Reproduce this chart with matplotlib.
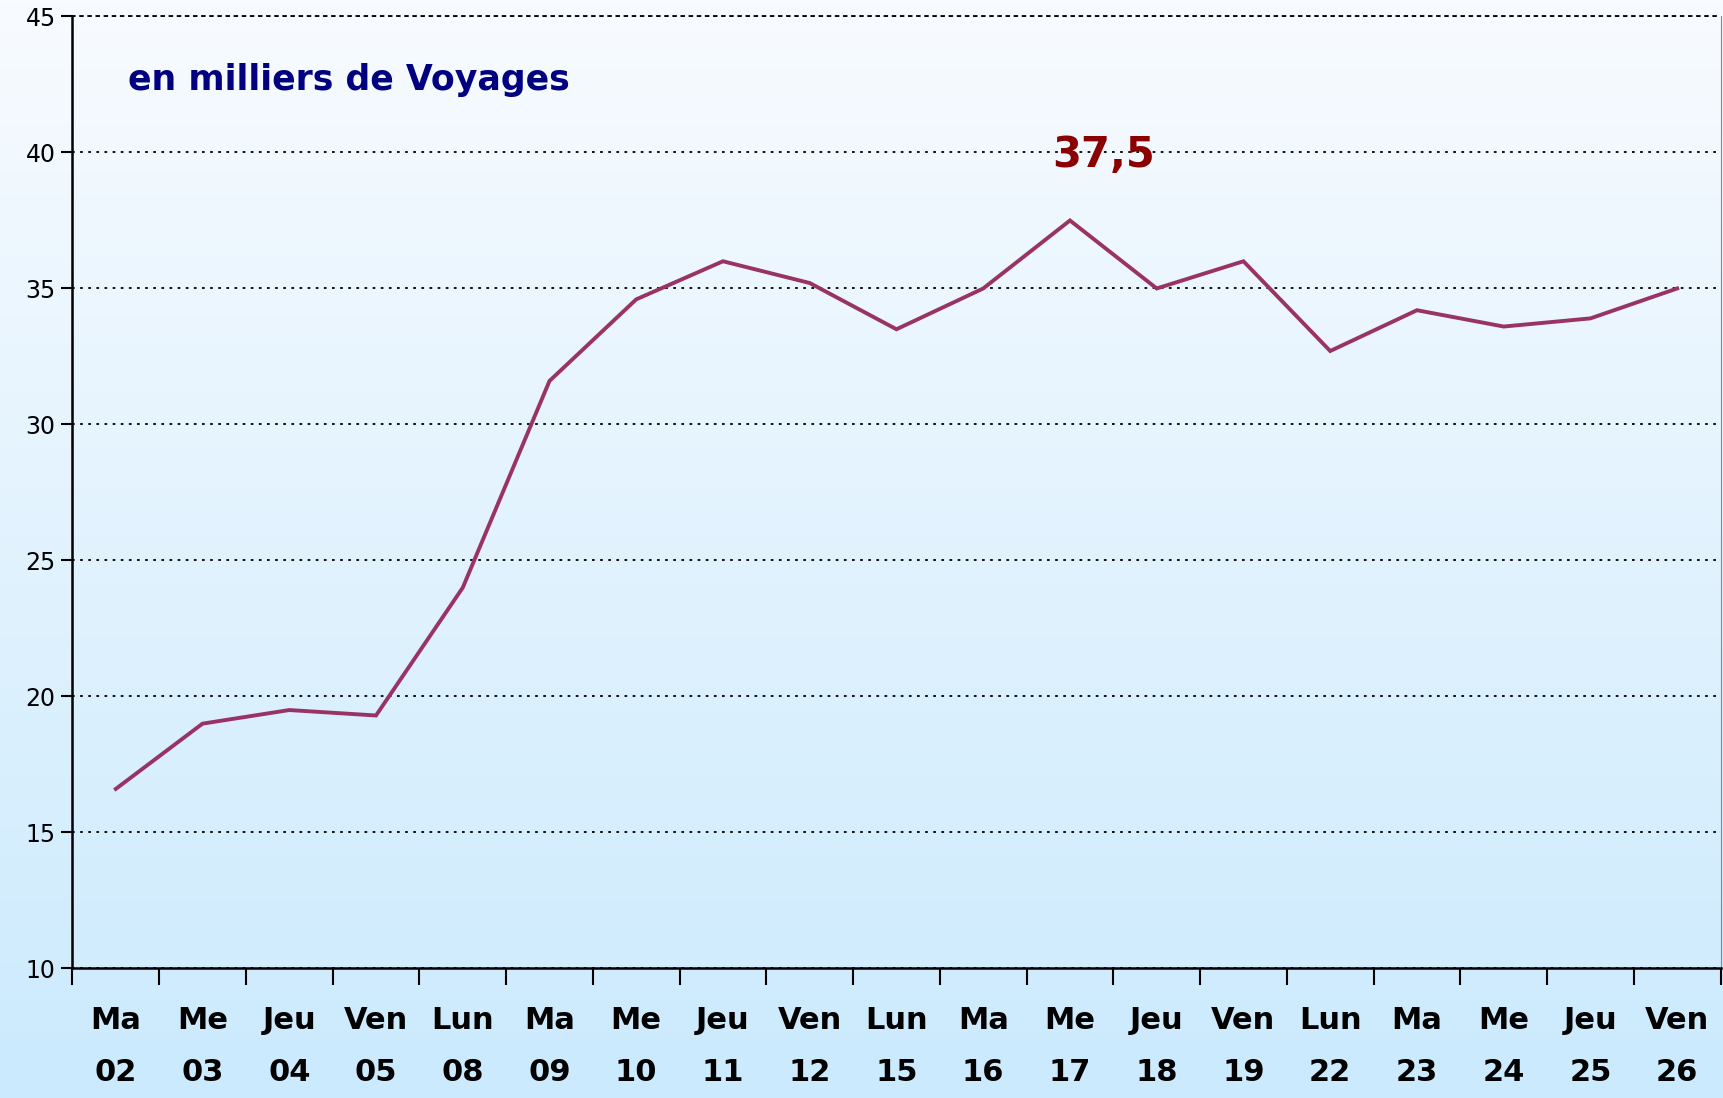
import numpy as np
import matplotlib.pyplot as plt
from matplotlib.colors import LinearSegmentedColormap

# daily values, in thousands of trips
days = ["Ma", "Me", "Jeu", "Ven", "Lun", "Ma", "Me", "Jeu", "Ven", "Lun",
        "Ma", "Me", "Jeu", "Ven", "Lun", "Ma", "Me", "Jeu", "Ven"]
dates = ["02", "03", "04", "05", "08", "09", "10", "11", "12", "15",
         "16", "17", "18", "19", "22", "23", "24", "25", "26"]
voyages = [16.6, 19.0, 19.5, 19.3, 24.0, 31.6, 34.6, 36.0, 35.2, 33.5,
           35.0, 37.5, 35.0, 36.0, 32.7, 34.2, 33.6, 33.9, 35.0]
y_ticks = [10, 15, 20, 25, 30, 35, 40, 45]

fig = plt.figure(figsize=(17.24, 10.98), dpi=100)

# background gradient over the whole figure
bg = fig.add_axes([0, 0, 1, 1], zorder=-10)
cmap = LinearSegmentedColormap.from_list("bg", ["#F8FBFF", "#CBEAFD"])
bg.imshow(np.linspace(0, 1, 256).reshape(-1, 1), aspect="auto", cmap=cmap,
          extent=[0, 1, 0, 1])
bg.axis("off")

ax = fig.add_axes([0.042, 0.118, 0.956, 0.867])
ax.patch.set_alpha(0)

x = np.arange(len(voyages))
ax.plot(x, voyages, color="#993366", linewidth=2.8, solid_joinstyle="miter")

ax.set_xlim(-0.5, len(voyages) - 0.5)
ax.set_ylim(10, 45)
ax.set_yticks(y_ticks)
ax.set_yticklabels([str(v) for v in y_ticks], fontsize=17)
ax.tick_params(axis="y", direction="out", length=8, width=1.5, pad=4)

ax.set_xticks(x)
ax.set_xticklabels([f"{d}\n{n}" for d, n in zip(days, dates)],
                   fontsize=22, fontweight="bold", linespacing=2.0)
ax.tick_params(axis="x", which="major", length=0, pad=27)
ax.set_xticks(np.arange(-0.5, len(voyages), 1), minor=True)
ax.tick_params(axis="x", which="minor", direction="out", length=12, width=1.5)

ax.grid(axis="y", color="black", linestyle=(0, (1.5, 3)), linewidth=1.3)
ax.set_axisbelow(True)
for side in ["left", "bottom"]:
    ax.spines[side].set_linewidth(1.8)
ax.spines["top"].set_linestyle((0, (1.5, 3)))
ax.spines["top"].set_linewidth(1.3)
ax.spines["right"].set_color("#888888")

ax.text(0.034, 0.933, "en milliers de Voyages", transform=ax.transAxes,
        fontsize=25, fontweight="bold", color="#000080", va="center")

i_max = int(np.argmax(voyages))
ax.annotate(f"{voyages[i_max]:.1f}".replace(".", ","),
            xy=(x[i_max], voyages[i_max]), xytext=(24, 47),
            textcoords="offset points", ha="center", va="center",
            fontsize=30, fontweight="bold", color="#8B0000")

fig.savefig("out.png", dpi=100)
